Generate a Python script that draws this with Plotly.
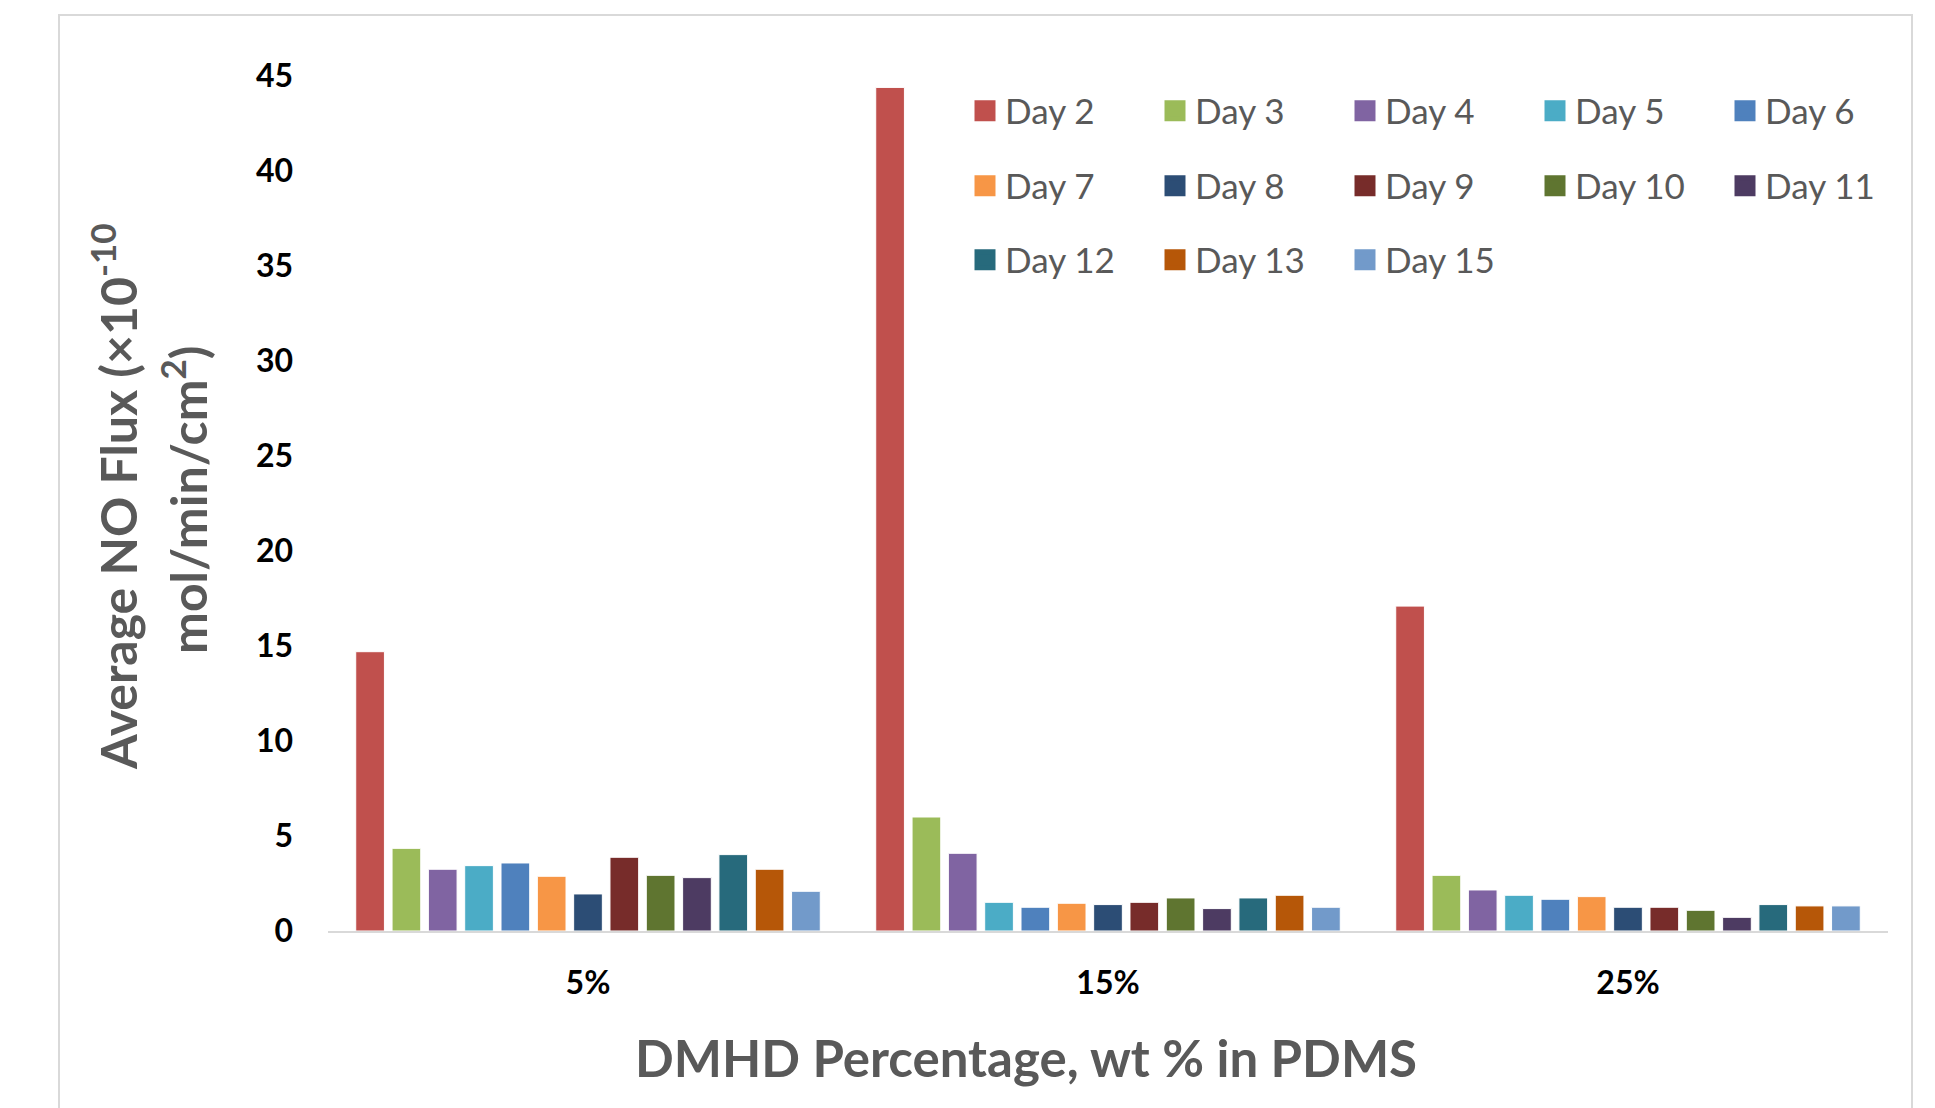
import plotly.graph_objects as go

# ---------------- data ----------------
categories = ["5%", "15%", "25%"]
days = ["Day 2", "Day 3", "Day 4", "Day 5", "Day 6", "Day 7", "Day 8",
        "Day 9", "Day 10", "Day 11", "Day 12", "Day 13", "Day 15"]
flux_5pct = [14.7, 4.35, 3.25, 3.44, 3.58, 2.88, 1.95, 3.88, 2.93, 2.81, 4.02, 3.25, 2.09]
flux_15pct = [44.4, 6.0, 4.09, 1.51, 1.25, 1.46, 1.39, 1.51, 1.74, 1.18, 1.74, 1.88, 1.25]
flux_25pct = [17.1, 2.93, 2.16, 1.88, 1.67, 1.81, 1.25, 1.25, 1.09, 0.72, 1.39, 1.32, 1.32]
y_ticks = [0, 5, 10, 15, 20, 25, 30, 35, 40, 45]

colors = ["#C0504D", "#9BBB59", "#8064A2", "#4BACC6", "#4F81BD", "#F79646", "#2C4D75",
          "#772C2A", "#5F7530", "#4D3B62", "#276A7C", "#B65708", "#729ACA"]

# ---------------- layout geometry ----------------
W, H = 1935, 1108
L, R, T, B = 328, 47, 76, 177
PW, PH = W - L - R, H - T - B


def px_x(x):
    return (x - L) / PW


def px_y(y):
    return (H - B - y) / PH


FONT = "Lato"
GRAY = "#595959"

fig = go.Figure()
legend_ids = ["legend"] * 5 + ["legend2"] * 5 + ["legend3"] * 3
for i, day in enumerate(days):
    vals = [flux_5pct[i], flux_15pct[i], flux_25pct[i]]
    fig.add_trace(go.Bar(
        x=categories, y=vals, name=day, legendgroup=day, showlegend=False,
        marker=dict(color=colors[i], line=dict(color="white", width=1)),
    ))
    # legend swatch entry (draws nothing)
    fig.add_trace(go.Scatter(
        x=[None], y=[None], mode="markers", name=day, legendgroup=day,
        legend=legend_ids[i], showlegend=True, hoverinfo="skip",
        marker=dict(symbol="square", size=16, color=colors[i],
                    line=dict(color=colors[i], width=5)),
    ))

leg_common = dict(
    orientation="h", xanchor="left", yanchor="middle", x=px_x(965),
    font=dict(family=FONT, size=35, color=GRAY),
    entrywidth=145, entrywidthmode="pixels",
    bgcolor="rgba(0,0,0,0)", borderwidth=0,
)

title_font = dict(family=FONT, size=50, color=GRAY, weight="bold")

fig.update_layout(
    width=W, height=H,
    margin=dict(l=L, r=R, t=T, b=B, autoexpand=False),
    paper_bgcolor="white", plot_bgcolor="white",
    barmode="group", bargap=0.092, bargroupgap=0.21,
    legend=dict(**leg_common, y=px_y(111)),
    legend2=dict(**leg_common, y=px_y(186)),
    legend3=dict(**leg_common, y=px_y(260)),
    xaxis=dict(
        type="category", showgrid=False, zeroline=False,
        showline=True, linecolor="#D9D9D9", linewidth=2, ticks="",
        tickfont=dict(family=FONT, size=32, color="black", weight="bold"),
        ticklabelstandoff=23,
    ),
    yaxis=dict(
        range=[0, 45], tickvals=y_ticks, showgrid=False, zeroline=False,
        showline=False, ticks="",
        tickfont=dict(family=FONT, size=32, color="black", weight="bold"),
        ticklabelstandoff=34,
    ),
    annotations=[
        dict(text="Average NO Flux (×10<sup>-10</sup>",
             xref="paper", yref="paper", x=px_x(114), y=px_y(496),
             xanchor="center", yanchor="middle", textangle=-90, showarrow=False,
             font=title_font),
        dict(text="mol/min/cm<sup>2</sup>)",
             xref="paper", yref="paper", x=px_x(185), y=px_y(500),
             xanchor="center", yanchor="middle", textangle=-90, showarrow=False,
             font=title_font),
        dict(text="DMHD Percentage, wt % in PDMS",
             xref="paper", yref="paper", x=px_x(1026), y=px_y(1057),
             xanchor="center", yanchor="middle", showarrow=False,
             font=dict(family=FONT, size=51, color=GRAY, weight="bold")),
    ],
    shapes=[
        dict(type="rect", xref="paper", yref="paper", layer="below",
             x0=px_x(59), x1=px_x(1912), y0=px_y(1140), y1=px_y(15),
             line=dict(color="#D9D9D9", width=2), fillcolor="rgba(0,0,0,0)"),
    ],
)

fig.write_html("out.html", config={"displayModeBar": False},
               post_script="document.body.style.margin='0';document.body.style.overflow='hidden';")
